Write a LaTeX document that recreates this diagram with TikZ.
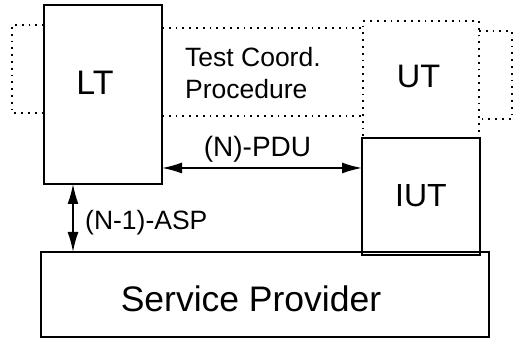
\documentclass[tikz,border=0pt]{standalone}
\usepackage{fontspec}
\setmainfont{Liberation Sans}
\usetikzlibrary{arrows.meta,positioning}

\begin{document}
\begin{tikzpicture}[x=1pt, y=1pt, box/.style = {draw, line width=1.8pt, inner sep=0pt, outer sep=0pt}, dotbox/.style = {box, band}, band/.style = {line width=1.8pt, dash pattern=on 1.8pt off 5pt}, link/.style = {line width=1.6pt, {Latex[length=20pt,width=11pt]}-{Latex[length=20pt,width=11pt]}}, txt/.style = {font=\fontsize{#1}{#1}\selectfont, inner sep=0pt, anchor=base}]
\useasboundingbox (0,0) rectangle (515,342);
% boxes
\node[dotbox, minimum width=116pt, minimum height=117pt] (ut) at (421,262.5) {};
\node[box, minimum width=118pt, minimum height=179pt] (lt) at (103,247.5) {};
\node[box, minimum width=118pt, minimum height=117pt] (iut) [below=0pt of ut] {};
\node[box, minimum width=448pt, minimum height=85pt] (sp) at (265,47.5) {};
% dotted bands
\draw[band] (lt.west |- 0,317) -- (12,317) |- (lt.west |- 0,229);
\draw[band] (lt.east |- 0,314) -- (ut.west |- 0,314);
\draw[band] (lt.east |- 0,226) -- (ut.west |- 0,226);
\draw[band] (ut.east |- 0,311) -- (512,311) |- (ut.east |- 0,223);
% texts
\node[txt=34] (ltname) at (95,247) {LT};
\node[txt=32.5] (utname) at (418.5,254) {UT};
\node[txt=32] (iutname) at (421,135) {IUT};
\node[txt=35.5] (spname) at (251,30) {Service Provider};
\node[txt=26.5, anchor=base west] (tcp1) at (185,275) {Test Coord.};
\node[txt=26.5, anchor=base west] (tcp2) at (185,243) {Procedure};
\node[txt=28] (pdu) at (257.5,185) {(N)-PDU};
\node[txt=26.5, anchor=base west] (asp) at (85,112) {(N-1)-ASP};
% connectors
\draw[link] (lt.east |- 0,174) -- (iut.west |- 0,174);
\draw[link] (lt.south -| 73,0) -- (sp.north -| 73,0);
\end{tikzpicture}
\end{document}
